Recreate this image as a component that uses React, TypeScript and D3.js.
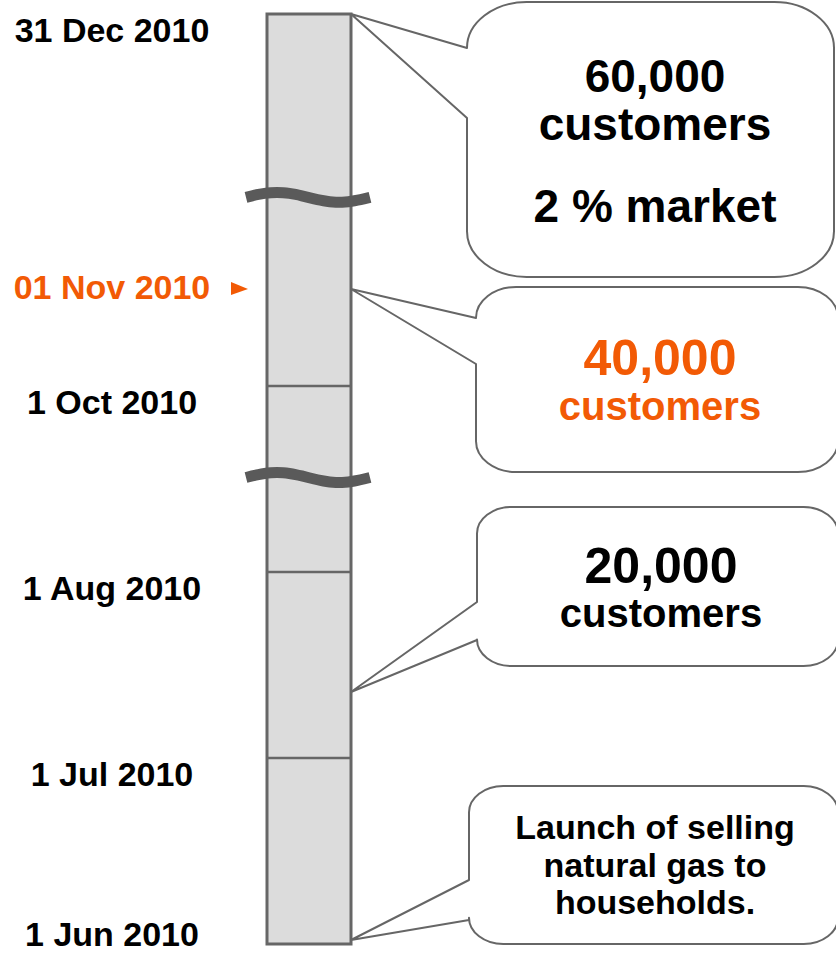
import React from 'react'
import * as d3 from 'd3'

// timeline ticks (broken axis, so each tick gets its own spot)
const tickDates = ['2010-06-01', '2010-07-01', '2010-08-01', '2010-10-01', '2010-11-01', '2010-12-31']
const tickLabels = ['1 Jun 2010', '1 Jul 2010', '1 Aug 2010', '1 Oct 2010', '01 Nov 2010', '31 Dec 2010']
const dividerDates = ['2010-07-01', '2010-08-01', '2010-10-01']
const breakDates = ['2010-09-01', '2010-11-21']
const highlightDate = '2010-11-01'

// callouts
const calloutDates = ['2010-12-31', '2010-11-01', '2010-07-12', '2010-06-01']
const calloutText = [
  ['60,000', 'customers', '2 % market'],
  ['40,000', 'customers'],
  ['20,000', 'customers'],
  ['Launch of selling', 'natural gas to', 'households.'],
]
const calloutHighlight = [false, true, false, false]

// bubble geometry (layout only)
const boxes = [
  { x0: 467, y0: 2, x1: 834, y1: 277, tailA: 48, tailB: 118, cx: 655, base: [90, 138, 220], size: [46, 46, 46] },
  { x0: 476, y0: 287, x1: 838, y1: 472, tailA: 318, tailB: 364, cx: 660, base: [88, 133], size: [50, 40] },
  { x0: 477, y0: 507, x1: 838, y1: 666, tailA: 602, tailB: 640, cx: 661, base: [76, 120], size: [50, 40] },
  { x0: 469, y0: 786, x1: 838, y1: 944, tailA: 880, tailB: 920, cx: 655, base: [53, 91, 128], size: [34, 34, 34] },
]

const parse = d3.timeParse('%Y-%m-%d')
const ORANGE = '#f25a05'
const GREY = '#666666'
const FONT = '"Liberation Sans", Arial, Helvetica, sans-serif'

function bubblePath(b: any, tipX: number, tipY: number) {
  const r = Math.min(b.x1 - b.x0, b.y1 - b.y0) / 6
  const rx = r * 1.3
  const ry = r
  const k = 0.45
  const p = d3.path()
  p.moveTo(b.x0 + rx, b.y0)
  p.lineTo(b.x1 - rx, b.y0)
  p.bezierCurveTo(b.x1 - rx * k, b.y0, b.x1, b.y0 + ry * k, b.x1, b.y0 + ry)
  p.lineTo(b.x1, b.y1 - ry)
  p.bezierCurveTo(b.x1, b.y1 - ry * k, b.x1 - rx * k, b.y1, b.x1 - rx, b.y1)
  p.lineTo(b.x0 + rx, b.y1)
  p.bezierCurveTo(b.x0 + rx * k, b.y1, b.x0, b.y1 - ry * k, b.x0, b.y1 - ry)
  p.lineTo(b.x0, b.tailB)
  p.lineTo(tipX, tipY)
  p.lineTo(b.x0, b.tailA)
  p.lineTo(b.x0, b.y0 + ry)
  p.bezierCurveTo(b.x0, b.y0 + ry * k, b.x0 + rx * k, b.y0, b.x0 + rx, b.y0)
  p.closePath()
  return p.toString()
}

function App() {
  const width = 836
  const height = 954
  const barLeft = 267
  const barRight = 351

  const y = d3
    .scaleTime()
    .domain(tickDates.map(d => parse(d) as Date))
    .range([944, 758, 572, 386, 289, 14])

  // wavy break mark
  const wave = d3
    .line<number>()
    .x(t => 246 + t * 124)
    .y(t => -5 * Math.sin(2 * Math.PI * t))
    .curve(d3.curveBasis)
  const waveD = wave(d3.range(0, 1.0001, 0.05)) as string

  const yTop = y(parse(tickDates[tickDates.length - 1]) as Date)
  const yBottom = y(parse(tickDates[0]) as Date)

  return (
    <svg width={width} height={height} style={{ position: 'absolute', left: 0, top: 0 }} fontFamily={FONT} fontWeight="bold">
      {/* the timeline bar */}
      <rect x={barLeft} y={yTop} width={barRight - barLeft} height={yBottom - yTop} fill="#dcdcdc" stroke={GREY} strokeWidth={3} />
      {dividerDates.map(d => (
        <line key={d} x1={barLeft} x2={barRight} y1={y(parse(d) as Date)} y2={y(parse(d) as Date)} stroke={GREY} strokeWidth={2.5} />
      ))}
      {breakDates.map(d => (
        <path key={d} d={waveD} transform={`translate(0 ${y(parse(d) as Date)})`} fill="none" stroke="#5a5a5a" strokeWidth={11} />
      ))}

      {/* date labels */}
      {tickDates.map((d, i) => {
        const yy = y(parse(d) as Date)
        const hi = d === highlightDate
        return (
          <g key={d}>
            <text
              x={112}
              y={hi ? yy + 10 : Math.min(yy + 28, 946)}
              textAnchor="middle"
              fontSize={34}
              fill={hi ? ORANGE : '#000'}
            >
              {tickLabels[i]}
            </text>
            {hi && <path d={`M231,${yy - 7} L248,${yy} L231,${yy + 6} Z`} fill={ORANGE} />}
          </g>
        )
      })}

      {/* callouts */}
      {calloutDates.map((d, i) => {
        const b = boxes[i]
        const tipY = Math.min(y(parse(d) as Date), yBottom - 4)
        return (
          <g key={d}>
            <path d={bubblePath(b, barRight, tipY)} fill="#fff" stroke={GREY} strokeWidth={2} strokeLinejoin="round" />
            {calloutText[i].map((t, j) => (
              <text
                key={t}
                x={b.cx}
                y={b.y0 + b.base[j]}
                textAnchor="middle"
                fontSize={b.size[j]}
                fill={calloutHighlight[i] ? ORANGE : '#000'}
              >
                {t}
              </text>
            ))}
          </g>
        )
      })}
    </svg>
  )
}

export default App
